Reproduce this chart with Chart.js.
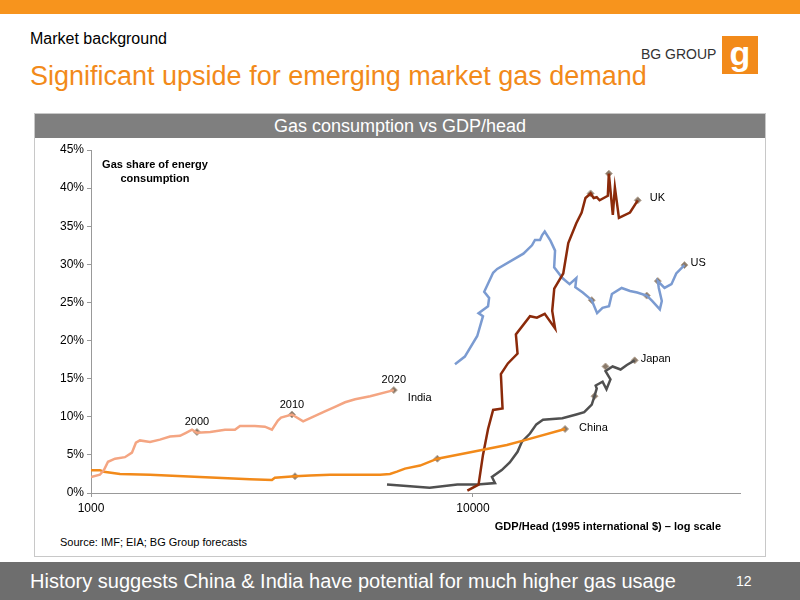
<!DOCTYPE html>
<html><head><meta charset="utf-8">
<script src="https://cdn.jsdelivr.net/npm/chart.js@4/dist/chart.umd.min.js"></script>
<style>
body{margin:0;width:800px;height:600px;position:relative;font-family:"Liberation Sans",Arial,sans-serif;background:#fff;overflow:hidden}
.abs{position:absolute}
</style></head><body>
<div class="abs" style="left:0;top:0;width:800px;height:14px;background:#F7941D"></div>
<div class="abs" style="left:30px;top:30px;font-size:16px;color:#000">Market background</div>
<div class="abs" style="left:30px;top:61px;font-size:27px;color:#F28A1A">Significant upside for emerging market gas demand</div>
<div class="abs" style="left:641px;top:46px;font-size:14px;color:#333">BG GROUP</div>
<div class="abs" style="left:722px;top:36px;width:36px;height:38px;background:#F28A1A;color:#fff;font-size:34px;line-height:34px;text-align:center;font-weight:bold">g</div>
<div class="abs" style="left:34px;top:113px;width:730px;height:442px;border:1px solid #c8c8c8"></div>
<div class="abs" style="left:35px;top:114px;width:730px;height:24px;background:#7f7f7f;color:#fff;font-size:18px;text-align:center;line-height:24px">Gas consumption vs GDP/head</div>
<div class="abs" style="left:60px;top:536px;font-size:11px;color:#000">Source: IMF; EIA; BG Group forecasts</div>
<div class="abs" style="left:0;top:562px;width:800px;height:38px;background:#6e6e6e"></div>
<div class="abs" style="left:30px;top:570px;font-size:20px;color:#fff">History suggests China &amp; India have potential for much higher gas usage</div>
<div class="abs" style="left:736px;top:573px;font-size:14px;color:#fff">12</div>
<div class="abs" style="left:35px;top:138px;width:730px;height:417px"><canvas id="c"></canvas></div>
<script>
const indiaX=[1000,1055,1081,1108,1156,1227,1280,1311,1343,1427,1515,1610,1710,1773,1838,1894,2052,2243,2381,2455,2685,2852,2976,3085,3144,3357,3592,4095,4353,4625,4914,5380,6205];
const indiaY=[2.1,2.4,3.0,4.1,4.5,4.7,5.3,6.6,6.9,6.7,7.0,7.4,7.5,7.9,8.3,7.9,8.0,8.3,8.3,8.8,8.8,8.7,8.3,9.5,9.9,10.3,9.4,10.7,11.3,11.9,12.3,12.7,13.5];
const chinaX=[1000,1055,1081,1191,1427,1928,2606,2976,3029,3420,3745,4226,5712,6063,6323,6636,7270,8067,10000,12264,13833,17420];
const chinaY=[3.0,3.0,2.8,2.5,2.4,2.1,1.8,1.7,2.0,2.2,2.3,2.4,2.4,2.5,2.8,3.2,3.6,4.5,5.4,6.3,7.0,8.4];
const ukX=[9666,10340,10620,10950,11290,11950,11830,12340,13080,12950,14100,14700,15410,16400,16120,16320,17230,17760,18640,19250,19700,20320,20700,21080,21450,22540,22680,23230,23520,24100,25760,27000];
const ukY=[0.3,1.1,5.0,8.4,10.9,11.1,15.6,17.0,18.3,20.8,23.2,23.0,23.5,21.6,23.9,26.8,28.8,32.8,35.4,36.8,38.7,39.3,38.7,38.8,38.4,39.0,41.9,36.5,40.1,36.1,36.8,38.4];
const usX=[8970,9520,10260,10620,10340,10950,11020,10700,11290,11570,13550,14270,14530,14980,15160,15410,15950,16400,16310,17140,17900,18640,18530,19380,20460,21130,21830,22700,23100,24500,25770,26900,28500,29440,30840,31210,30650,30470,31720,33080,34050,35770];
const usY=[16.9,17.9,20.6,23.2,23.6,24.5,25.6,26.4,28.9,29.4,31.4,32.5,33.2,33.2,33.8,34.3,33.1,31.8,29.6,28.2,27.4,28.2,27.0,26.3,25.3,23.6,24.3,24.5,26.1,26.9,26.5,26.3,25.9,25.2,24.1,25.2,26.9,27.8,26.9,27.4,28.8,29.9];
const japanX=[5955,7700,9100,10260,11420,11210,11890,12480,13080,13420,14100,14650,15250,17140,18640,19550,20460,20800,21080,20950,21840,22360,22900,22230,23200,24340,25280,26500];
const japanY=[1.1,0.7,1.1,1.1,1.3,2.1,3.0,4.0,5.4,6.7,7.8,9.0,9.6,9.8,10.3,10.6,11.6,12.7,13.7,14.1,14.6,13.6,14.9,16.0,16.6,16.2,16.8,17.4];
const markX=[1894,3357,6205,3420,8067,17420,20320,22680,27000,20460,28500,30470,35770,20800,22230,26500];
const markY=[8.0,10.3,13.5,2.2,4.5,8.4,39.3,41.9,38.4,25.3,25.9,27.8,29.9,12.7,16.6,17.4];
const labels=[["2000",1894,8.0,0,-10],["2010",3357,10.3,0,-10],["2020",6205,13.5,0,-10],["India",6205,13.5,14,8],["China",17420,8.4,14,-1],["UK",27000,38.4,12,-2],["US",35770,29.9,6,-2],["Japan",26500,17.4,6,-1]];
const pts=(xs,ys)=>xs.map((x,i)=>({x:x,y:ys[i]}));
const line=(xs,ys,c)=>({data:pts(xs,ys),borderColor:c,borderWidth:2.5,pointRadius:0,showLine:true,fill:false,tension:0});
const lblPlugin={id:'lbl',afterDatasetsDraw(ch){const g=ch.ctx,xs=ch.scales.x,ys=ch.scales.y;g.save();g.font='11px "Liberation Sans",Arial';g.fillStyle='#000';
labels.forEach(l=>{const px=xs.getPixelForValue(l[1])+l[3],py=ys.getPixelForValue(l[2])+l[4];g.textAlign=l[3]===0?'center':'left';g.textBaseline='middle';g.fillText(l[0],px,py);});
g.font='bold 11px "Liberation Sans",Arial';g.textAlign='center';g.fillText('Gas share of energy',120,27);g.fillText('consumption',120,41);
g.textAlign='right';g.fillText('GDP/Head (1995 international $) – log scale',686,389);g.restore();}};
new Chart(document.getElementById('c'),{type:'scatter',
data:{datasets:[line(indiaX,indiaY,'#F4A582'),line(chinaX,chinaY,'#F28A1A'),line(ukX,ukY,'#8B2A0A'),line(usX,usY,'#7B9BD1'),line(japanX,japanY,'#505050'),
{data:pts(markX,markY),pointStyle:'rectRot',pointRadius:3.5,backgroundColor:'#8a7a6a',borderColor:'#b8a898',borderWidth:1,showLine:false}]},
options:{responsive:true,maintainAspectRatio:false,animation:false,events:[],
layout:{padding:{top:12,right:25,left:0,bottom:0}},
plugins:{legend:{display:false},tooltip:{enabled:false}},
scales:{
x:{type:'logarithmic',min:1000,max:50000,afterBuildTicks:s=>{s.ticks=[{value:1000},{value:10000}];},
ticks:{color:'#000',font:{size:12},callback:v=>String(v),maxRotation:0,padding:4},
grid:{drawOnChartArea:false,tickLength:4,color:'#999'},border:{color:'#999'},
afterFit:s=>{s.height=62;}},
y:{min:0,max:45,ticks:{stepSize:5,color:'#000',font:{size:12},callback:v=>v+'%'},
grid:{drawOnChartArea:false,tickLength:4,color:'#999'},border:{color:'#999'},afterFit:s=>{s.width=56;}}}},
plugins:[lblPlugin]});
</script></body></html>
